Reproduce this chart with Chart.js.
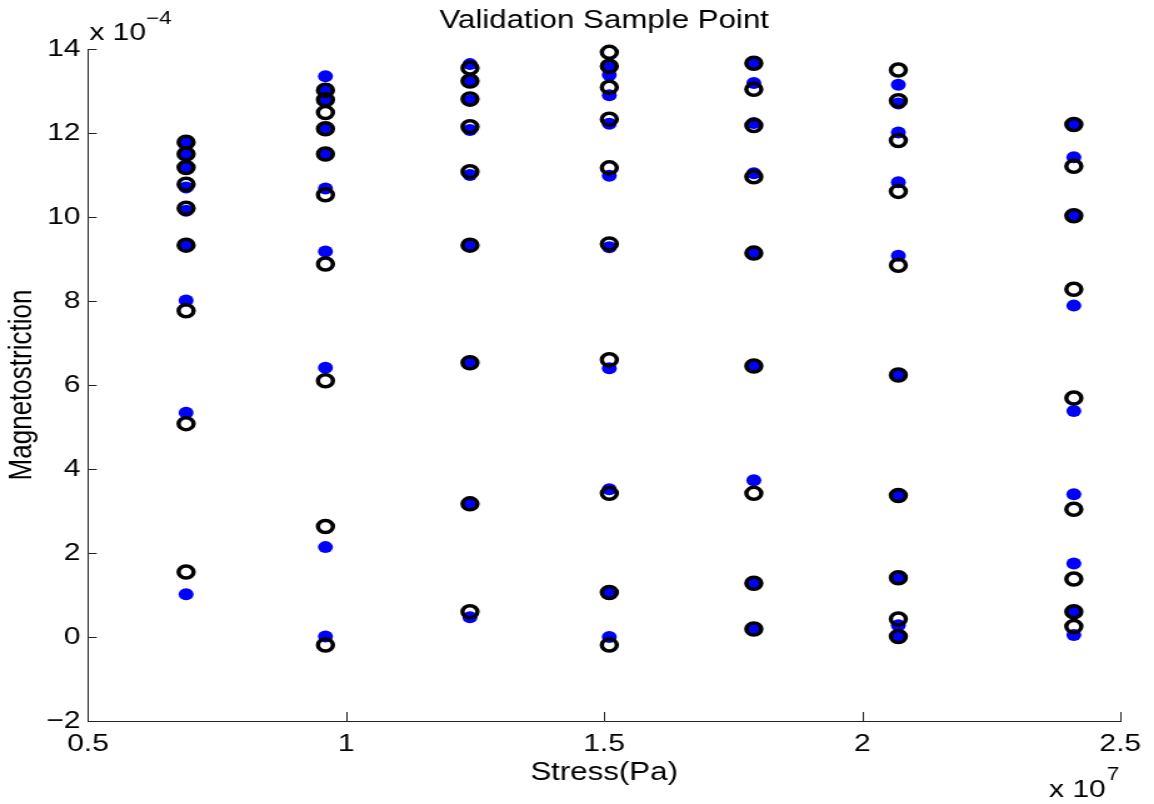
<!DOCTYPE html>
<html lang="en">
<head>
<meta charset="UTF-8">
<title>Validation Sample Point</title>
<script src="https://cdn.jsdelivr.net/npm/chart.js"></script>
<style>
  html, body { margin: 0; padding: 0; background: #fff; overflow: hidden; }
  /* the original figure was stretched sideways, so stretch the canvas the same way */
  #wrap { width: 923px; height: 804px; transform: scaleX(1.2503); transform-origin: 0 0; }
</style>
</head>
<body>
<div id="wrap"><canvas id="chart" width="923" height="804"></canvas></div>

<script>
    // Stress levels (x 10^7 Pa)
    const stressLevels = [0.69, 0.96, 1.24, 1.51, 1.79, 2.07, 2.41];

    // Measured magnetostriction (x 10^-4), blue dots, one list per stress level
    const measured = [
        [11.76, 11.48, 11.18, 10.70, 10.15, 9.33, 8.01, 5.34, 1.02],
        [13.35, 13.02, 12.76, 12.10, 11.50, 10.68, 9.18, 6.41, 2.14, 0.01],
        [13.64, 13.24, 12.77, 12.07, 11.00, 9.33, 6.56, 3.17, 0.47],
        [13.60, 13.38, 12.90, 12.22, 10.98, 9.28, 6.40, 3.52, 1.06, 0.00],
        [13.66, 13.19, 12.24, 11.04, 9.14, 6.45, 3.73, 1.28, 0.19],
        [13.15, 12.70, 12.01, 10.83, 9.08, 6.24, 3.37, 1.41, 0.28, 0.01],
        [12.22, 11.42, 10.03, 7.89, 5.38, 3.40, 1.75, 0.60, 0.05]
    ];

    // Model values (x 10^-4), black open circles
    const predicted = [
        [11.78, 11.50, 11.18, 10.78, 10.21, 9.33, 7.77, 5.08, 1.55],
        [13.02, 12.79, 12.49, 12.10, 11.50, 10.53, 8.88, 6.10, 2.63, -0.19],
        [13.55, 13.24, 12.81, 12.15, 11.08, 9.33, 6.53, 3.17, 0.60],
        [13.92, 13.59, 13.09, 12.33, 11.17, 9.36, 6.60, 3.42, 1.06, -0.19],
        [13.66, 13.04, 12.18, 10.96, 9.14, 6.45, 3.42, 1.28, 0.19],
        [13.50, 12.77, 11.82, 10.61, 8.85, 6.24, 3.37, 1.41, 0.43, 0.01],
        [12.20, 11.21, 10.03, 8.28, 5.69, 3.04, 1.38, 0.60, 0.25]
    ];

    const xTicks = [0.5, 1, 1.5, 2, 2.5];
    const yTicks = [-2, 0, 2, 4, 6, 8, 10, 12, 14];

    const FONT = "'Liberation Sans', Arial, Helvetica, sans-serif";

    // turn the per-level lists into {x, y} points
    function toPoints(lists) {
        const pts = [];
        lists.forEach((col, i) => {
            col.forEach(v => pts.push({ x: stressLevels[i], y: v }));
        });
        return pts;
    }

    const minus = v => (v < 0 ? '\u2212' + Math.abs(v) : String(v));

    // inward tick marks, title and the exponent labels (MATLAB look)
    const matlabAxes = {
        id: 'matlabAxes',
        beforeDatasetsDraw(chart) {
            const { ctx, chartArea, scales } = chart;
            ctx.save();
            ctx.strokeStyle = '#222';
            ctx.lineWidth = 1;
            ctx.beginPath();
            yTicks.forEach(v => {
                const py = Math.round(scales.y.getPixelForValue(v)) + 0.5;
                ctx.moveTo(chartArea.left, py);
                ctx.lineTo(chartArea.left + 7, py);
            });
            xTicks.forEach(v => {
                const px = Math.round(scales.x.getPixelForValue(v)) + 0.5;
                ctx.moveTo(px, chartArea.bottom);
                ctx.lineTo(px, chartArea.bottom - 9);
            });
            ctx.stroke();
            ctx.restore();
        },
        afterDraw(chart) {
            const { ctx, chartArea } = chart;
            ctx.save();
            ctx.fillStyle = '#000';
            ctx.textBaseline = 'alphabetic';

            // title
            ctx.font = '25px ' + FONT;
            ctx.textAlign = 'center';
            ctx.fillText('Validation Sample Point', (chartArea.left + chartArea.right) / 2, 28);

            // y exponent
            ctx.textAlign = 'left';
            ctx.font = '24px ' + FONT;
            ctx.fillText('x 10', chartArea.left + 1, 40);
            let w = ctx.measureText('x 10').width;
            ctx.font = '18px ' + FONT;
            ctx.fillText('\u22124', chartArea.left + 1 + w, 24);

            // x exponent
            ctx.font = '24px ' + FONT;
            ctx.fillText('x 10', 839, 797);
            w = ctx.measureText('x 10').width;
            ctx.font = '18px ' + FONT;
            ctx.fillText('7', 839 + w + 1, 780);
            ctx.restore();
        }
    };

    const ctx = document.getElementById('chart').getContext('2d');
    const chart = new Chart(ctx, {
        type: 'scatter',
        data: {
            datasets: [
                {
                    label: 'Model',
                    data: toPoints(predicted),
                    pointRadius: 6,
                    pointBorderWidth: 3.5,
                    pointBorderColor: '#000',
                    pointBackgroundColor: 'rgba(0,0,0,0)',
                    clip: false,
                    order: 0
                },
                {
                    label: 'Measured',
                    data: toPoints(measured),
                    pointRadius: 6,
                    pointBorderWidth: 0,
                    pointBackgroundColor: '#0000ff',
                    pointBorderColor: '#0000ff',
                    clip: false,
                    order: 1
                }
            ]
        },
        options: {
            responsive: false,
            animation: false,
            events: [],
            layout: { padding: { top: 49, right: 27, left: 0, bottom: 0 } },
            plugins: {
                legend: { display: false },
                tooltip: { enabled: false },
                title: { display: false }
            },
            scales: {
                x: {
                    type: 'linear',
                    min: 0.5,
                    max: 2.5,
                    afterBuildTicks: s => { s.ticks = xTicks.map(v => ({ value: v })); },
                    afterFit: s => { s.height = 83; },
                    grid: { display: false, drawTicks: false },
                    border: { display: true, color: '#222', width: 1 },
                    ticks: {
                        padding: 9,
                        color: '#000',
                        font: { family: FONT, size: 24 },
                        maxRotation: 0,
                        callback: v => minus(v)
                    },
                    title: {
                        display: true,
                        text: 'Stress(Pa)',
                        color: '#000',
                        font: { family: FONT, size: 25 },
                        padding: { top: 0, bottom: 16 }
                    }
                },
                y: {
                    type: 'linear',
                    min: -2,
                    max: 14,
                    afterBuildTicks: s => { s.ticks = yTicks.map(v => ({ value: v })); },
                    afterFit: s => { s.width = 70.4; },
                    grid: { display: false, drawTicks: false },
                    border: { display: true, color: '#222', width: 1 },
                    ticks: {
                        padding: 6,
                        color: '#000',
                        font: { family: FONT, size: 24 },
                        callback: v => minus(v)
                    },
                    title: {
                        display: true,
                        text: 'Magnetostriction',
                        color: '#000',
                        font: { family: FONT, size: 26 },
                        padding: { top: 2, bottom: 0 }
                    }
                }
            }
        },
        plugins: [matlabAxes]
    });
</script>
</body>
</html>
